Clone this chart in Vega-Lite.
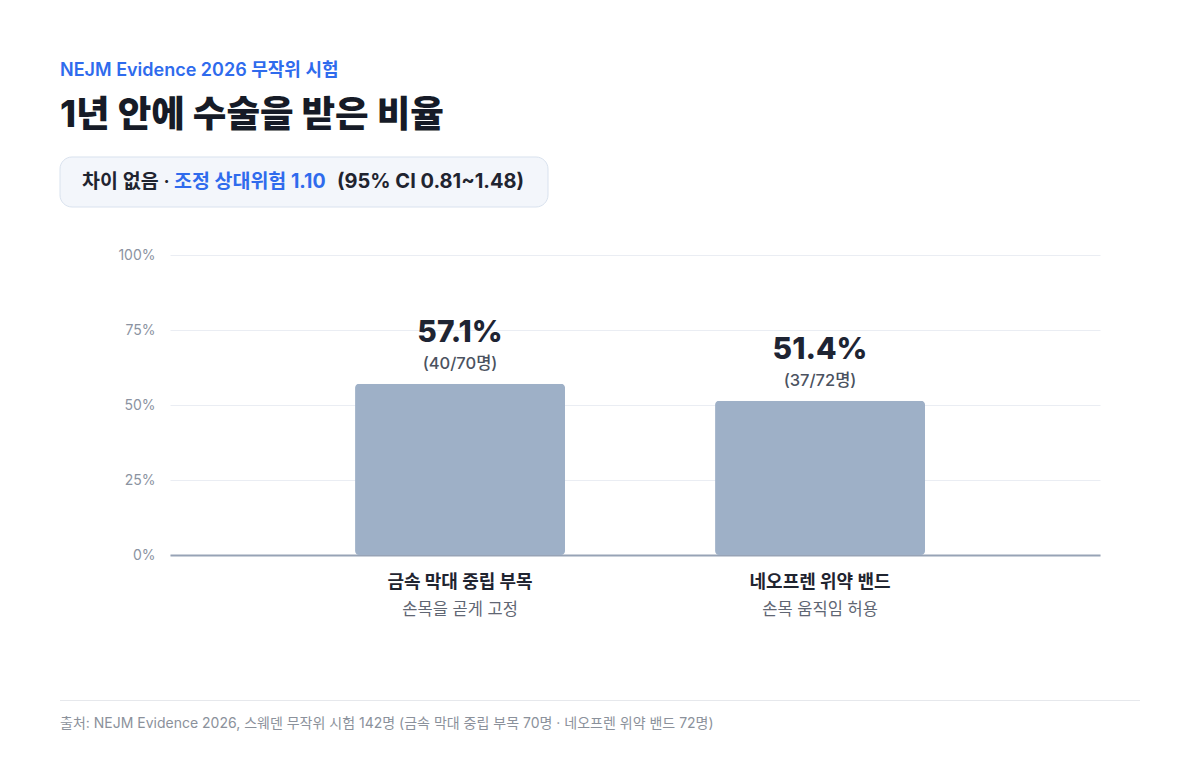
{
  "$schema": "https://vega.github.io/schema/vega-lite/v6.json",
  "width": 930,
  "height": 300,
  "autosize": {"type": "none"},
  "padding": {"left": 170, "top": 255, "right": 100, "bottom": 222},
  "background": "#ffffff",
  "title": {
    "text": "NEJM Evidence 2026 무작위 시험",
    "subtitle": "1년 안에 수술을 받은 비율",
    "anchor": "start",
    "frame": "group",
    "dx": -110,
    "offset": 22,
    "fontSize": 18,
    "fontWeight": 600,
    "color": "#2f6bed",
    "subtitleFontSize": 36.5,
    "subtitleFontWeight": 800,
    "subtitleColor": "#161b27",
    "subtitlePadding": 18
  },
  "datasets": {
    "groups": [
      {"group": "금속 막대 중립 부목", "sub": "손목을 곧게 고정", "rate": 57.1, "pct_label": "57.1%", "count_label": "(40/70명)"},
      {"group": "네오프렌 위약 밴드", "sub": "손목 움직임 허용", "rate": 51.4, "pct_label": "51.4%", "count_label": "(37/72명)"}
    ],
    "note": [{"key": "annotation"}]
  },
  "layer": [
    {
      "data": {"name": "groups"},
      "encoding": {
        "x": {
          "field": "group",
          "type": "nominal",
          "sort": null,
          "scale": {"type": "band", "paddingInner": 0.4167, "paddingOuter": 0.5, "align": 0.514},
          "axis": {"labels": false, "ticks": false, "title": null, "grid": false, "domainColor": "#97a3b6", "domainWidth": 2}
        }
      },
      "layer": [
        {
          "mark": {"type": "bar", "color": "#9eb0c7", "cornerRadius": 4},
          "encoding": {
            "y": {
              "field": "rate",
              "type": "quantitative",
              "scale": {"domain": [0, 100], "nice": false},
              "axis": {
                "values": [0, 25, 50, 75, 100],
                "labelExpr": "datum.value + '%'",
                "title": null,
                "domain": false,
                "ticks": false,
                "labelFontSize": 14,
                "labelColor": "#8b93a1",
                "labelPadding": 15,
                "gridColor": "#eaedf3",
                "gridWidth": 1
              }
            }
          }
        },
        {
          "mark": {"type": "text", "fontSize": 30, "fontWeight": 800, "color": "#1e2433", "baseline": "middle", "dy": -51},
          "encoding": {
            "y": {"field": "rate", "type": "quantitative", "scale": {"domain": [0, 100], "nice": false}},
            "text": {"field": "pct_label"}
          }
        },
        {
          "mark": {"type": "text", "fontSize": 16.5, "fontWeight": 500, "color": "#4b5260", "baseline": "middle", "dy": -20},
          "encoding": {
            "y": {"field": "rate", "type": "quantitative", "scale": {"domain": [0, 100], "nice": false}},
            "text": {"field": "count_label"}
          }
        },
        {
          "mark": {"type": "text", "fontSize": 18, "fontWeight": 700, "color": "#1f2430", "baseline": "middle", "dy": 28},
          "encoding": {
            "y": {"datum": 0, "type": "quantitative", "scale": {"domain": [0, 100], "nice": false}},
            "text": {"field": "group"}
          }
        },
        {
          "mark": {"type": "text", "fontSize": 16.5, "color": "#5f6673", "baseline": "middle", "dy": 55},
          "encoding": {
            "y": {"datum": 0, "type": "quantitative", "scale": {"domain": [0, 100], "nice": false}},
            "text": {"field": "sub"}
          }
        }
      ]
    },
    {
      "data": {"name": "note"},
      "layer": [
        {
          "mark": {"type": "rect", "fill": "#f3f6fb", "stroke": "#d9e2ee", "strokeWidth": 1, "cornerRadius": 12},
          "encoding": {
            "x": {"datum": -110, "type": "quantitative", "scale": {"domain": [0, 930], "nice": false, "zero": false}, "axis": null},
            "x2": {"datum": 378},
            "y": {"datum": 132.67, "type": "quantitative", "scale": {"domain": [0, 100], "nice": false}},
            "y2": {"datum": 116}
          }
        },
        {
          "mark": {"type": "text", "align": "left", "baseline": "middle", "fontSize": 19.5, "fontWeight": 600, "color": "#1f2430", "text": "차이 없음 ·"},
          "encoding": {
            "x": {"datum": -88, "type": "quantitative", "scale": {"domain": [0, 930], "nice": false, "zero": false}, "axis": null},
            "y": {"datum": 124.4, "type": "quantitative", "scale": {"domain": [0, 100], "nice": false}}
          }
        },
        {
          "mark": {"type": "text", "align": "left", "baseline": "middle", "fontSize": 19.5, "fontWeight": 700, "color": "#2f6bed", "text": "조정 상대위험 1.10"},
          "encoding": {
            "x": {"datum": 4, "type": "quantitative", "scale": {"domain": [0, 930], "nice": false, "zero": false}, "axis": null},
            "y": {"datum": 124.4, "type": "quantitative", "scale": {"domain": [0, 100], "nice": false}}
          }
        },
        {
          "mark": {"type": "text", "align": "left", "baseline": "middle", "fontSize": 20, "fontWeight": 700, "color": "#1f2430", "text": "(95% CI 0.81~1.48)"},
          "encoding": {
            "x": {"datum": 167, "type": "quantitative", "scale": {"domain": [0, 930], "nice": false, "zero": false}, "axis": null},
            "y": {"datum": 124.4, "type": "quantitative", "scale": {"domain": [0, 100], "nice": false}}
          }
        },
        {
          "mark": {"type": "rule", "stroke": "#e6e8ec", "strokeWidth": 1},
          "encoding": {
            "x": {"datum": -110, "type": "quantitative", "scale": {"domain": [0, 930], "nice": false, "zero": false}, "axis": null},
            "x2": {"datum": 970},
            "y": {"datum": -48.5, "type": "quantitative", "scale": {"domain": [0, 100], "nice": false}}
          }
        },
        {
          "mark": {"type": "text", "align": "left", "baseline": "middle", "fontSize": 14, "color": "#8b919b", "text": "출처: NEJM Evidence 2026, 스웨덴 무작위 시험 142명 (금속 막대 중립 부목 70명 · 네오프렌 위약 밴드 72명)"},
          "encoding": {
            "x": {"datum": -110, "type": "quantitative", "scale": {"domain": [0, 930], "nice": false, "zero": false}, "axis": null},
            "y": {"datum": -56.3, "type": "quantitative", "scale": {"domain": [0, 100], "nice": false}}
          }
        }
      ]
    }
  ],
  "resolve": {"scale": {"x": "independent"}},
  "config": {
    "view": {"stroke": null},
    "font": "Inter, 'Noto Sans CJK KR', sans-serif"
  }
}
